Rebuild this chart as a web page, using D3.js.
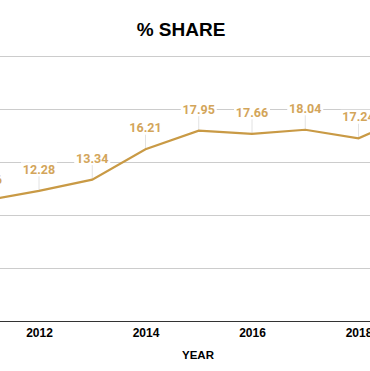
<!DOCTYPE html>
<html>
<head>
<meta charset="utf-8">
<script src="https://cdn.jsdelivr.net/npm/d3@7"></script>
<style>
  html, body { margin: 0; padding: 0; background: #fff; }
  svg { display: block; overflow: hidden; }
</style>
</head>
<body>
<svg id="chart"></svg>
<script>
// Data
const years = [2011, 2012, 2013, 2014, 2015, 2016, 2017, 2018, 2019];
const share = [11.36, 12.28, 13.34, 16.21, 17.95, 17.66, 18.04, 17.24, 19.4];
const xTicks = [2010, 2012, 2014, 2016, 2018, 2020];
const yTicks = [0, 5, 10, 15, 20, 25];

const width = 370;
const height = 371;

const lineColor = "#c99a45";
const labelColor = "#d3a55a";

const svg = d3.select("#chart")
    .attr("width", width)
    .attr("height", height);

// Scales (plot area is wider than the visible window, as in the reference)
const x = d3.scaleLinear().domain([2012, 2018]).range([39, 358.5]);
const y = d3.scaleLinear().domain([0, 25]).range([321, 56]);

// Title
svg.append("text")
    .attr("x", 181)
    .attr("y", 36)
    .attr("text-anchor", "middle")
    .style("font-family", "'Liberation Sans', Arial, sans-serif")
    .style("font-weight", "bold")
    .style("font-size", "19px")
    .text("% SHARE");

// Horizontal gridlines
svg.append("g")
    .selectAll("line")
    .data(yTicks.filter(d => d > 0))
    .join("line")
    .attr("x1", 0)
    .attr("x2", width)
    .attr("y1", d => y(d) + 0.5)
    .attr("y2", d => y(d) + 0.5)
    .style("stroke", "#cccccc")
    .style("stroke-width", 1);

// X axis
const xAxis = svg.append("g")
    .attr("transform", `translate(0,${y(0)})`)
    .call(d3.axisBottom(x).tickValues(xTicks).tickFormat(d3.format("d")).tickSize(0).tickPadding(7));

xAxis.select(".domain")
    .attr("d", `M0,0.5H${width}`)
    .style("stroke", "#333")
    .style("stroke-width", 1.2);

xAxis.selectAll("text")
    .style("font-family", "'Liberation Sans', Arial, sans-serif")
    .style("font-weight", "bold")
    .style("font-size", "12px")
    .style("fill", "#000");

// Axis title
svg.append("text")
    .attr("x", 198)
    .attr("y", 359)
    .attr("text-anchor", "middle")
    .style("font-family", "'Liberation Sans', Arial, sans-serif")
    .style("font-weight", "bold")
    .style("font-size", "11.5px")
    .text("YEAR");

const points = years.map((yr, i) => ({year: yr, value: share[i]}));
const labelOffset = 21.5;

// Leader lines from point up to label
svg.append("g")
    .selectAll("line")
    .data(points)
    .join("line")
    .attr("x1", d => x(d.year))
    .attr("x2", d => x(d.year))
    .attr("y1", d => y(d.value))
    .attr("y2", d => y(d.value) - labelOffset + 6)
    .style("stroke", "#e2e2e2")
    .style("stroke-width", 1);

// Data line
const line = d3.line()
    .x(d => x(d.year))
    .y(d => y(d.value));

svg.append("path")
    .datum(points)
    .attr("d", line)
    .style("fill", "none")
    .style("stroke", lineColor)
    .style("stroke-width", 2.2)
    .style("stroke-linejoin", "miter");

// Value labels with white background
const labels = svg.append("g")
    .selectAll("g")
    .data(points)
    .join("g")
    .attr("transform", d => `translate(${x(d.year)},${y(d.value) - labelOffset})`);

labels.append("rect")
    .attr("x", -18)
    .attr("y", -7)
    .attr("width", 36)
    .attr("height", 14)
    .style("fill", "#fff");

labels.append("text")
    .attr("text-anchor", "middle")
    .attr("dy", "0.36em")
    .style("font-family", "Roboto, sans-serif")
    .style("font-weight", "bold")
    .style("font-size", "12.5px")
    .style("fill", labelColor)
    .text(d => d.value.toFixed(2));
</script>
</body>
</html>
